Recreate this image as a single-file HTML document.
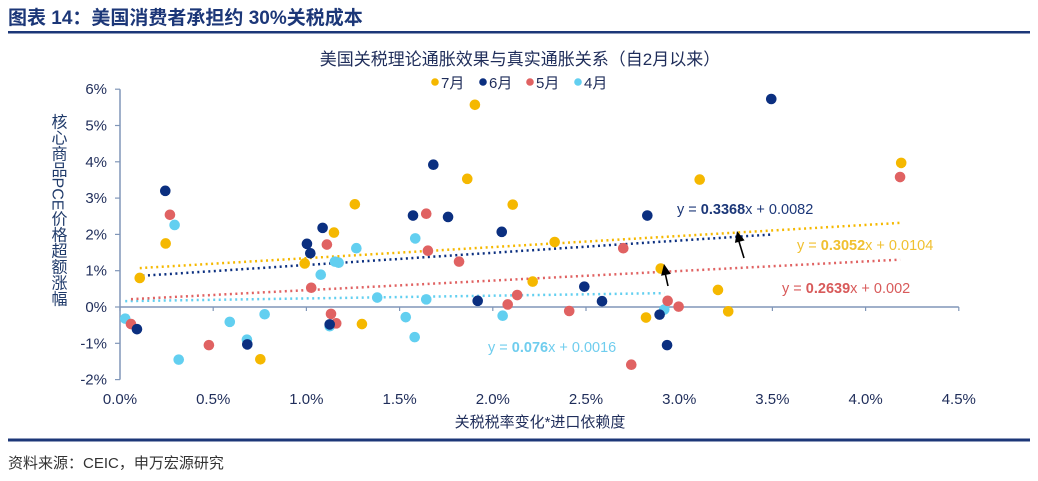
<!DOCTYPE html>
<html><head><meta charset="utf-8">
<style>
html,body{margin:0;padding:0;background:#fff;width:1038px;height:481px;overflow:hidden}
svg{display:block}
text{font-family:"Liberation Sans","Noto Sans CJK SC",sans-serif}
</style></head>
<body>
<svg id="chart" width="1038" height="481" viewBox="0 0 1038 481">
  <text x="8" y="24" font-size="19" font-weight="bold" fill="#1c3778">图表 14：美国消费者承担约 30%关税成本</text>
  <rect x="8" y="31" width="1022" height="2.5" fill="#1c3778"/>
  <text x="520" y="65" font-size="17" fill="#1f2d5a" text-anchor="middle">美国关税理论通胀效果与真实通胀关系（自2月以来）</text>
  <g id="legend"></g>
  <text x="57" y="210" font-size="16" fill="#1f3a6a" text-anchor="middle" style="writing-mode:vertical-rl">核心商品PCE价格超额涨幅</text>
  <text x="540" y="427" font-size="15" fill="#1f2d5a" text-anchor="middle">关税税率变化*进口依赖度</text>
  <g id="axes"></g>
  <g id="trends"></g>
  <g id="points"></g>
  <g id="labels"></g>
  <rect x="8" y="438.5" width="1022" height="3" fill="#1c3778"/>
  <text x="8" y="468" font-size="15" fill="#333">资料来源：CEIC，申万宏源研究</text>
</svg>
<script>
const xTicks=[0,0.5,1,1.5,2,2.5,3,3.5,4,4.5];
const yTicks=[-2,-1,0,1,2,3,4,5,6];
const seriesNames=["7月","6月","5月","4月"];
const julX=[0.106,0.245,0.753,0.991,1.148,1.26,1.298,1.863,1.904,2.107,2.214,2.332,2.822,2.901,3.11,3.208,3.263,4.191];
const julY=[0.80,1.75,-1.44,1.20,2.05,2.83,-0.47,3.53,5.57,2.82,0.70,1.79,-0.29,1.06,3.51,0.47,-0.12,3.97];
const junX=[0.091,0.243,0.683,1.003,1.021,1.087,1.125,1.572,1.681,1.76,1.919,2.048,2.491,2.586,2.829,2.895,2.935,3.494];
const junY=[-0.61,3.20,-1.03,1.74,1.48,2.18,-0.48,2.52,3.92,2.48,0.17,2.07,0.56,0.16,2.52,-0.21,-1.05,5.73];
const mayX=[0.059,0.268,0.477,1.026,1.11,1.132,1.16,1.643,1.652,1.819,2.08,2.131,2.41,2.70,2.743,2.938,2.997,4.185];
const mayY=[-0.47,2.54,-1.05,0.53,1.72,-0.19,-0.45,2.57,1.55,1.25,0.07,0.33,-0.11,1.62,-1.59,0.17,0.01,3.58];
const aprX=[0.028,0.293,0.315,0.589,0.681,0.776,1.077,1.125,1.153,1.173,1.268,1.38,1.533,1.581,1.584,1.643,2.053,2.92];
const aprY=[-0.32,2.26,-1.45,-0.41,-0.90,-0.20,0.89,-0.53,1.25,1.22,1.62,0.26,-0.28,-0.83,1.89,0.21,-0.24,-0.07];
const slopes=[0.3052,0.3368,0.2639,0.076];
const intercepts=[0.0104,0.0082,0.002,0.0016];
const colors=["#f5b800","#0b2f80","#e06262","#62cff0"];
const NS="http://www.w3.org/2000/svg";
const X=v=>120+v*186.4, Y=v=>307-v*36.3;
function mk(tag,attrs,parent){const e=document.createElementNS(NS,tag);for(const k in attrs)e.setAttribute(k,attrs[k]);parent.appendChild(e);return e;}
const axes=document.getElementById('axes');
const ax="#8096b8";
let e=mk('line',{x1:120,y1:Y(6),x2:120,y2:Y(-2),stroke:ax,'stroke-width':1.5},axes);


e=mk('line',{x1:120,y1:Y(0),x2:X(4.5),y2:Y(0),stroke:ax,'stroke-width':1.5},axes);


yTicks.forEach(t=>{
  mk('line',{x1:115,y1:Y(t),x2:120,y2:Y(t),stroke:ax,'stroke-width':1.2},axes);
  const l=mk('text',{x:107,y:Y(t)+5,'font-size':15,fill:'#1f2d5a','text-anchor':'end'},axes);l.textContent=t+'%';
  
  
});
xTicks.forEach(t=>{
  mk('line',{x1:X(t),y1:Y(0),x2:X(t),y2:Y(0)+4,stroke:ax,'stroke-width':1.2},axes);
  const l=mk('text',{x:X(t),y:404,'font-size':15,fill:'#1f2d5a','text-anchor':'middle'},axes);l.textContent=t.toFixed(1)+'%';
  
  
});
const xs=[julX,junX,mayX,aprX], ys=[julY,junY,mayY,aprY];
const trends=document.getElementById('trends'), pts=document.getElementById('points');
for(let s=3;s>=0;s--){
  const x0=Math.min(...xs[s]), x1=Math.max(...xs[s]);
  const f=x=>(slopes[s]*x/100+intercepts[s])*100;
  const ln=mk('line',{x1:X(x0),y1:Y(f(x0)),x2:X(x1),y2:Y(f(x1)),stroke:colors[s],'stroke-width':2.5,'stroke-dasharray':'2 3.5'},trends);
  
  
}
[3,2,1,0].forEach(s=>{
  xs[s].forEach((v,i)=>{
    const c=mk('circle',{cx:X(v),cy:Y(ys[s][i]),r:5.3,fill:colors[s]},pts);
    
    
  });
});
// legend
const lg=document.getElementById('legend');
const lx=[435,483,530,578];
seriesNames.forEach((n,i)=>{
  mk('circle',{cx:lx[i],cy:82,r:3.8,fill:colors[i]},lg);
  const t=mk('text',{x:lx[i]+6,y:88,'font-size':15,fill:'#1f2d5a'},lg);t.textContent=n;
  
  
});
// trend labels
const labs=document.getElementById('labels');
const lpos=[[797,250],[677,214],[782,293],[488,352]];
const lcol=["#f0c030","#1c3778","#d85a5a","#6fcdee"];
[1,0,2,3].forEach(s=>{
  const t=mk('text',{x:lpos[s][0],y:lpos[s][1],'font-size':14.5,fill:lcol[s]},labs);
  
  
  const a=document.createElementNS(NS,'tspan');a.textContent='y = ';t.appendChild(a);
  const b=document.createElementNS(NS,'tspan');b.setAttribute('font-weight','bold');b.textContent=String(slopes[s]);t.appendChild(b);
  const c=document.createElementNS(NS,'tspan');c.textContent='x + '+intercepts[s];t.appendChild(c);
});
// arrows
[[744,258,737,231],[668,286,664,264]].forEach(a=>{
  mk('line',{x1:a[0],y1:a[1],x2:a[2],y2:a[3]+4,stroke:'#000','stroke-width':1.6},labs);
  const ang=Math.atan2(a[3]-a[1],a[2]-a[0]);
  const L=11,W=5;
  const bx=a[2]-L*Math.cos(ang), by=a[3]-L*Math.sin(ang);
  const px=-Math.sin(ang)*W, py=Math.cos(ang)*W;
  const p=mk('polygon',{points:`${a[2]},${a[3]} ${bx+px},${by+py} ${bx-px},${by-py}`,fill:'#000'},labs);
  
  
});
</script>
</body></html>
